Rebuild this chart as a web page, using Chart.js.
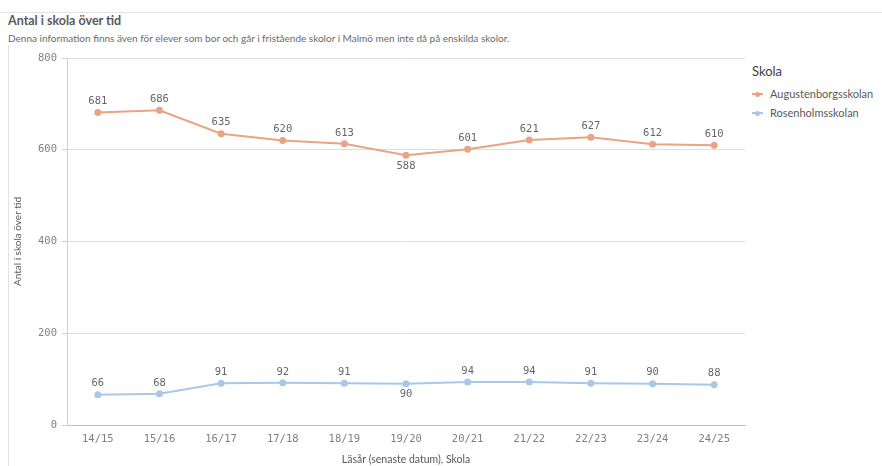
<!DOCTYPE html>
<html>
<head>
<meta charset="utf-8">
<script src="https://cdn.jsdelivr.net/npm/chart.js@4"></script>
<style>
  html, body { margin: 0; padding: 0; background: #fff; }
  body { width: 882px; height: 466px; position: relative; overflow: hidden; font-family: Lato, "Open Sans", sans-serif; }
  #topline { position: absolute; left: 0; top: 12px; width: 882px; height: 0; border-top: 1px solid #e3e3e3; }
  #leftline { position: absolute; left: 8px; top: 45px; width: 0; height: 421px; border-left: 1px solid #e3e3e3; }
  #title { position: absolute; left: 8px; top: 13px; font-size: 12.5px; font-weight: bold; color: #595959; white-space: nowrap; }
  #subtitle { position: absolute; left: 8px; top: 32px; font-size: 10px; color: #6b6b6b; white-space: nowrap; }
  #legend { position: absolute; left: 752px; top: 63px; color: #404040; }
  #legend .head { font-size: 13px; margin-bottom: 8px; color: #404040; }
  #legend .item { position: relative; font-size: 11px; height: 19px; line-height: 14px; padding-left: 18px; color: #595959; white-space: nowrap; }
  #legend .sw { position: absolute; left: 0; top: 6px; width: 11px; height: 2px; }
  #legend .dot { position: absolute; left: 3px; top: -1.5px; width: 5px; height: 5px; border-radius: 50%; }
  #c { position: absolute; left: 0; top: 0; }
</style>
</head>
<body>
<div id="topline"></div>
<div id="leftline"></div>
<div id="title">Antal i skola över tid</div>
<div id="subtitle">Denna information finns även för elever som bor och går i fristående skolor i Malmö men inte då på enskilda skolor.</div>
<div id="legend"></div>
<canvas id="c" width="882" height="466"></canvas>
<script>
const categories = ["14/15","15/16","16/17","17/18","18/19","19/20","20/21","21/22","22/23","23/24","24/25"];
const seriesNames = ["Augustenborgsskolan", "Rosenholmsskolan"];
const augustenborg = [681, 686, 635, 620, 613, 588, 601, 621, 627, 612, 610];
const rosenholm = [66, 68, 91, 92, 91, 90, 94, 94, 91, 90, 88];
const yTicks = [0, 200, 400, 600, 800];
const colors = ["#e8a483", "#a9c7e7"];

const legend = document.getElementById('legend');
legend.innerHTML = '<div class="head">Skola</div>' + seriesNames.map((n, i) =>
  `<div class="item"><span class="sw" style="background:${colors[i]}"><span class="dot" style="background:${colors[i]}"></span></span>${n}</div>`).join('');

const labelPlugin = {
  id: 'pointLabels',
  afterDatasetsDraw(chart) {
    const ctx = chart.ctx;
    ctx.save();
    ctx.font = '10.5px "DejaVu Sans Mono", monospace';
    ctx.fillStyle = '#666666';
    ctx.textAlign = 'center';
    ctx.textBaseline = 'middle';
    chart.data.datasets.forEach((ds, di) => {
      const meta = chart.getDatasetMeta(di);
      meta.data.forEach((pt, i) => {
        const v = ds.data[i];
        const below = i > 0 && i < ds.data.length - 1 && v < ds.data[i - 1] && v < ds.data[i + 1];
        const y = below ? pt.y + 11 : pt.y - 11;
        ctx.fillText(String(v), pt.x, y);
      });
    });
    ctx.restore();
  }
};

new Chart(document.getElementById('c'), {
  type: 'line',
  data: {
    labels: categories,
    datasets: [
      { label: seriesNames[0], data: augustenborg, borderColor: colors[0], backgroundColor: colors[0], borderWidth: 2, pointRadius: 2.5, pointHoverRadius: 2.5, tension: 0 },
      { label: seriesNames[1], data: rosenholm, borderColor: colors[1], backgroundColor: colors[1], borderWidth: 2, pointRadius: 2.5, pointHoverRadius: 2.5, tension: 0 }
    ]
  },
  options: {
    responsive: false,
    animation: false,
    layout: { padding: { left: 0, right: 137, top: 58, bottom: 0 } },
    plugins: { legend: { display: false }, title: { display: false }, tooltip: { enabled: false } },
    scales: {
      x: {
        offset: true,
        grid: { display: false, drawTicks: false },
        border: { display: true, color: '#bdbdbd', width: 1 },
        ticks: { color: '#808080', font: { family: '"DejaVu Sans Mono", monospace', size: 10.5 }, padding: 8, maxRotation: 0 },
        title: { display: true, text: 'Läsår (senaste datum), Skola', color: '#595959', font: { family: 'Lato, sans-serif', size: 10.5 }, padding: { top: 4, bottom: 0 } },
        afterFit(scale) { scale.height = 41; }
      },
      y: {
        min: 0, max: 800,
        afterBuildTicks(scale) { scale.ticks = yTicks.map(v => ({ value: v })); },
        grid: { color: '#dedede', lineWidth: 1, tickLength: 5, tickColor: '#cfcfcf' },
        border: { display: true, color: '#d0d0d0', width: 1 },
        ticks: { color: '#808080', font: { family: '"DejaVu Sans Mono", monospace', size: 10.5 }, padding: 5 },
        title: { display: true, text: 'Antal i skola över tid', color: '#595959', font: { family: 'Lato, sans-serif', size: 10 }, padding: { top: 12, bottom: 0 } },
        afterFit(scale) { scale.width = 67; }
      }
    }
  },
  plugins: [labelPlugin]
});
</script>
</body>
</html>
